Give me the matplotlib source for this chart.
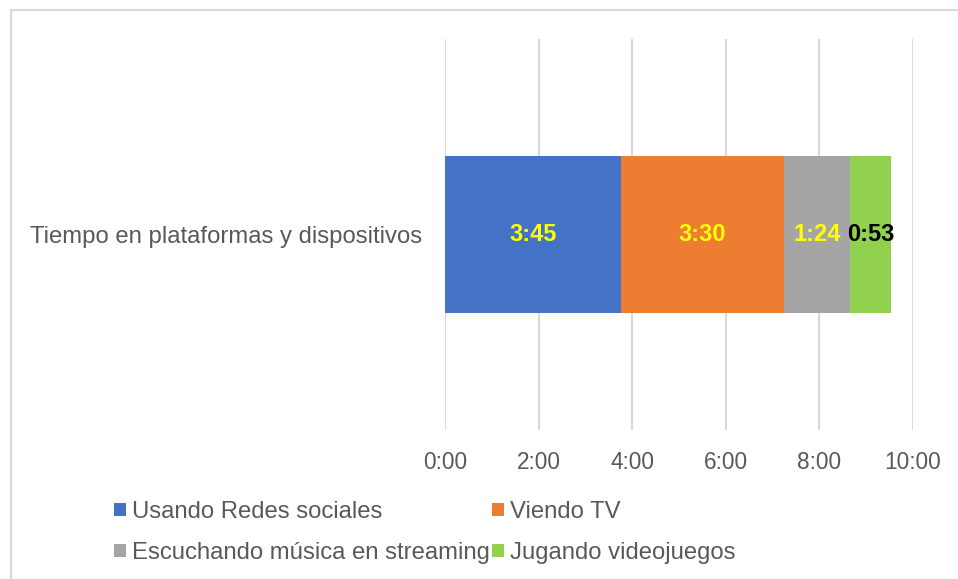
import matplotlib.pyplot as plt
from matplotlib.lines import Line2D
from matplotlib.patches import Patch

plt.rcParams['font.family'] = ['Liberation Sans', 'DejaVu Sans']

categoria = "Tiempo en plataformas y dispositivos"
actividades = ["Usando Redes sociales", "Viendo TV",
               "Escuchando música en streaming", "Jugando videojuegos"]
minutos = [225, 210, 84, 53]
colores = ["#4472C4", "#ED7D31", "#A5A5A5", "#92D050"]
color_etiqueta = ["#FFFF00", "#FFFF00", "#FFFF00", "#000000"]
ticks_horas = [0, 2, 4, 6, 8, 10]

fig = plt.figure(figsize=(9.58, 5.79), dpi=100)
ax = fig.add_axes([445/958, 1 - 430/579, 468/958, 391/579])

izq = 0.0
handles = []
for nombre, m, c, ce in zip(actividades, minutos, colores, color_etiqueta):
    h = m / 60
    ax.barh(0, h, left=izq, height=0.404, color=c, zorder=3)
    ax.text(izq + h / 2, 0, f"{m // 60}:{m % 60:02d}", ha='center', va='center',
            color=ce, fontsize=17, fontweight='bold', zorder=4)
    handles.append(Patch(facecolor=c, label=nombre))
    izq += h

ax.set_xlim(0, 10)
ax.set_ylim(-0.5, 0.5)
ax.set_xticks(ticks_horas)
ax.set_xticklabels([f"{t}:00" for t in ticks_horas])
ax.set_yticks([0])
ax.set_yticklabels([categoria])
ax.tick_params(axis='both', length=0, colors='#595959')
ax.tick_params(axis='x', pad=15, labelsize=16.3)
ax.tick_params(axis='y', pad=16.5, labelsize=17.2)
ax.grid(axis='x', color='#D9D9D9', linewidth=1.5, zorder=0)
for s in ax.spines.values():
    s.set_visible(False)

# leyenda en dos columnas, ordenada por filas
orden = [0, 2, 1, 3]
leg = fig.legend([handles[i] for i in orden], [actividades[i] for i in orden],
                 ncol=2, loc='upper left', bbox_to_anchor=(114/958, 1 - 501/579),
                 frameon=False, fontsize=17.2, handlelength=0.5, handleheight=0.5,
                 handletextpad=0.25, columnspacing=0.1, labelspacing=0.8,
                 borderpad=0, borderaxespad=0)
for t in leg.get_texts():
    t.set_color('#595959')

# marco del área del gráfico
fig.add_artist(Line2D([10.5/958, 1], [1 - 9.5/579, 1 - 9.5/579], transform=fig.transFigure,
                      color='#D9D9D9', linewidth=1.5))
fig.add_artist(Line2D([10.5/958, 10.5/958], [0, 1 - 9.5/579], transform=fig.transFigure,
                      color='#D9D9D9', linewidth=1.5))

fig.savefig("out.png", dpi=100)
